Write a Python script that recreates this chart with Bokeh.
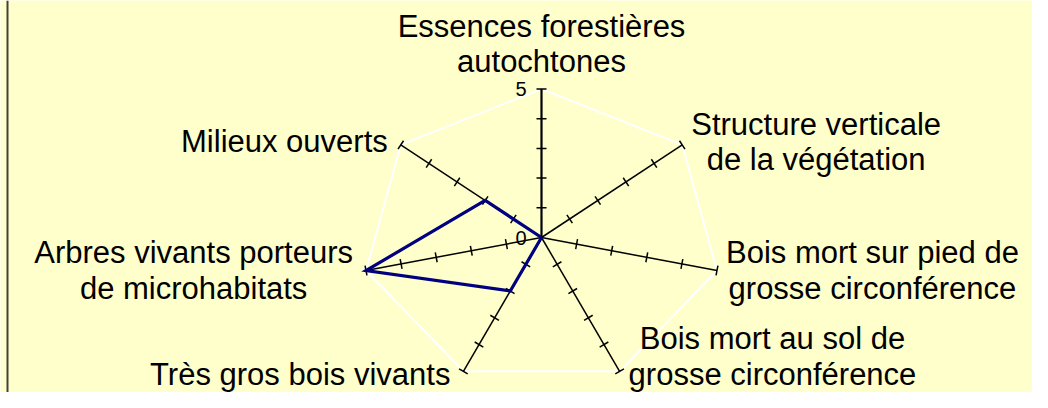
import numpy as np
from bokeh.plotting import figure
from bokeh.models import Range1d, Span
from bokeh.core.properties import value
from bokeh.embed import file_html
from bokeh.resources import INLINE

# ---------------- data ----------------
categories = [
    "Essences forestières\nautochtones",
    "Structure verticale\nde la végétation",
    "Bois mort sur pied de\ngrosse circonférence",
    "Bois mort au sol de\ngrosse circonférence",
    "Très gros bois vivants",
    "Arbres vivants porteurs\nde microhabitats",
    "Milieux ouverts",
]
values = [0, 0, 0, 0, 2, 5, 2]
axis_max = 5
tick_values = [1, 2, 3, 4, 5]
tick_label_values = [0, 5]
tick_labels = ["0", "5"]

# ---------------- layout / style ----------------
W, H = 1032, 392
CX, CY = 541, 237          # centre of the radar in plot pixels
SX, SY = 36.0, 29.7        # pixels per unit (x stretched like the original)
FONT = value("Liberation Sans")
FS = 31                    # category label font size (px)
LH = 35.0                  # line spacing (px)
BG = "#FFFFCC"

p = figure(width=W, height=H, output_backend="svg", toolbar_location=None,
           x_range=Range1d(-CX / SX, (W - CX) / SX),
           y_range=Range1d(-(H - CY) / SY, CY / SY),
           min_border=0, background_fill_color=BG, border_fill_color=BG,
           outline_line_color=None)
p.axis.visible = False
p.grid.visible = False

n = len(categories)
theta = np.array([2 * np.pi * k / n for k in range(n)])
sin_t, cos_t = np.sin(theta), np.cos(theta)

# outer gridline (white)
gx = list(axis_max * sin_t) + [axis_max * sin_t[0]]
gy = list(axis_max * cos_t) + [axis_max * cos_t[0]]
p.line(gx, gy, line_color="white", line_width=2)

# spokes
for k in range(n):
    p.segment(x0=[0], y0=[0], x1=[axis_max * sin_t[k]], y1=[axis_max * cos_t[k]],
              line_color="black", line_width=2.2 if k == 0 else 1.5)

# tick marks (perpendicular to each spoke, in screen space)
half = 5.0
tx0, ty0, tx1, ty1 = [], [], [], []
for k in range(n):
    dx, dy = sin_t[k] * SX, cos_t[k] * SY
    L = np.hypot(dx, dy)
    px, py = -dy / L, dx / L
    for t in tick_values:
        cx_, cy_ = t * sin_t[k], t * cos_t[k]
        tx0.append(cx_ - half * px / SX); ty0.append(cy_ - half * py / SY)
        tx1.append(cx_ + half * px / SX); ty1.append(cy_ + half * py / SY)
p.segment(x0=tx0, y0=ty0, x1=tx1, y1=ty1, line_color="black", line_width=1.5)

# tick labels on the first axis
p.text(x=[-15 / SX] * len(tick_label_values), y=tick_label_values, text=tick_labels,
       text_align="right", text_baseline="middle", text_font=FONT,
       text_font_size="20px", text_color="black")

# series
sx = [v * s for v, s in zip(values, sin_t)] + [values[0] * sin_t[0]]
sy = [v * c for v, c in zip(values, cos_t)] + [values[0] * cos_t[0]]
p.line(sx, sy, line_color="#000080", line_width=3.2, line_join="miter")

# category labels
metric_h = FS * 1.117
for k in range(n):
    vx, vy = axis_max * sin_t[k], axis_max * cos_t[k]
    vy_px = CY - vy * SY
    nlines = categories[k].count("\n") + 1
    hh = ((nlines - 1) * LH + metric_h) / 2.0
    if abs(sin_t[k]) < 1e-9:
        anchor, ox, cy_px = "bottom_center", 0, vy_px - 10
    else:
        cy_px = vy_px - 3 + 14 * max(0.0, -cos_t[k])
        cy_px = min(cy_px, H - 1 - hh)
        if sin_t[k] > 0:
            anchor, ox = "center_left", 9
        else:
            anchor, ox = "center_right", -13
    p.text(x=[vx + ox / SX], y=[(CY - cy_px) / SY], text=[categories[k]],
           anchor=anchor, text_align="center", text_font=FONT,
           text_font_size=f"{FS}px", text_line_height=LH / metric_h, text_color="black")

# left frame border
p.add_layout(Span(location=-CX / SX + 7 / SX, dimension="height",
                  line_color="#404040", line_width=2))

open("out.html", "w").write(file_html(p, INLINE))
